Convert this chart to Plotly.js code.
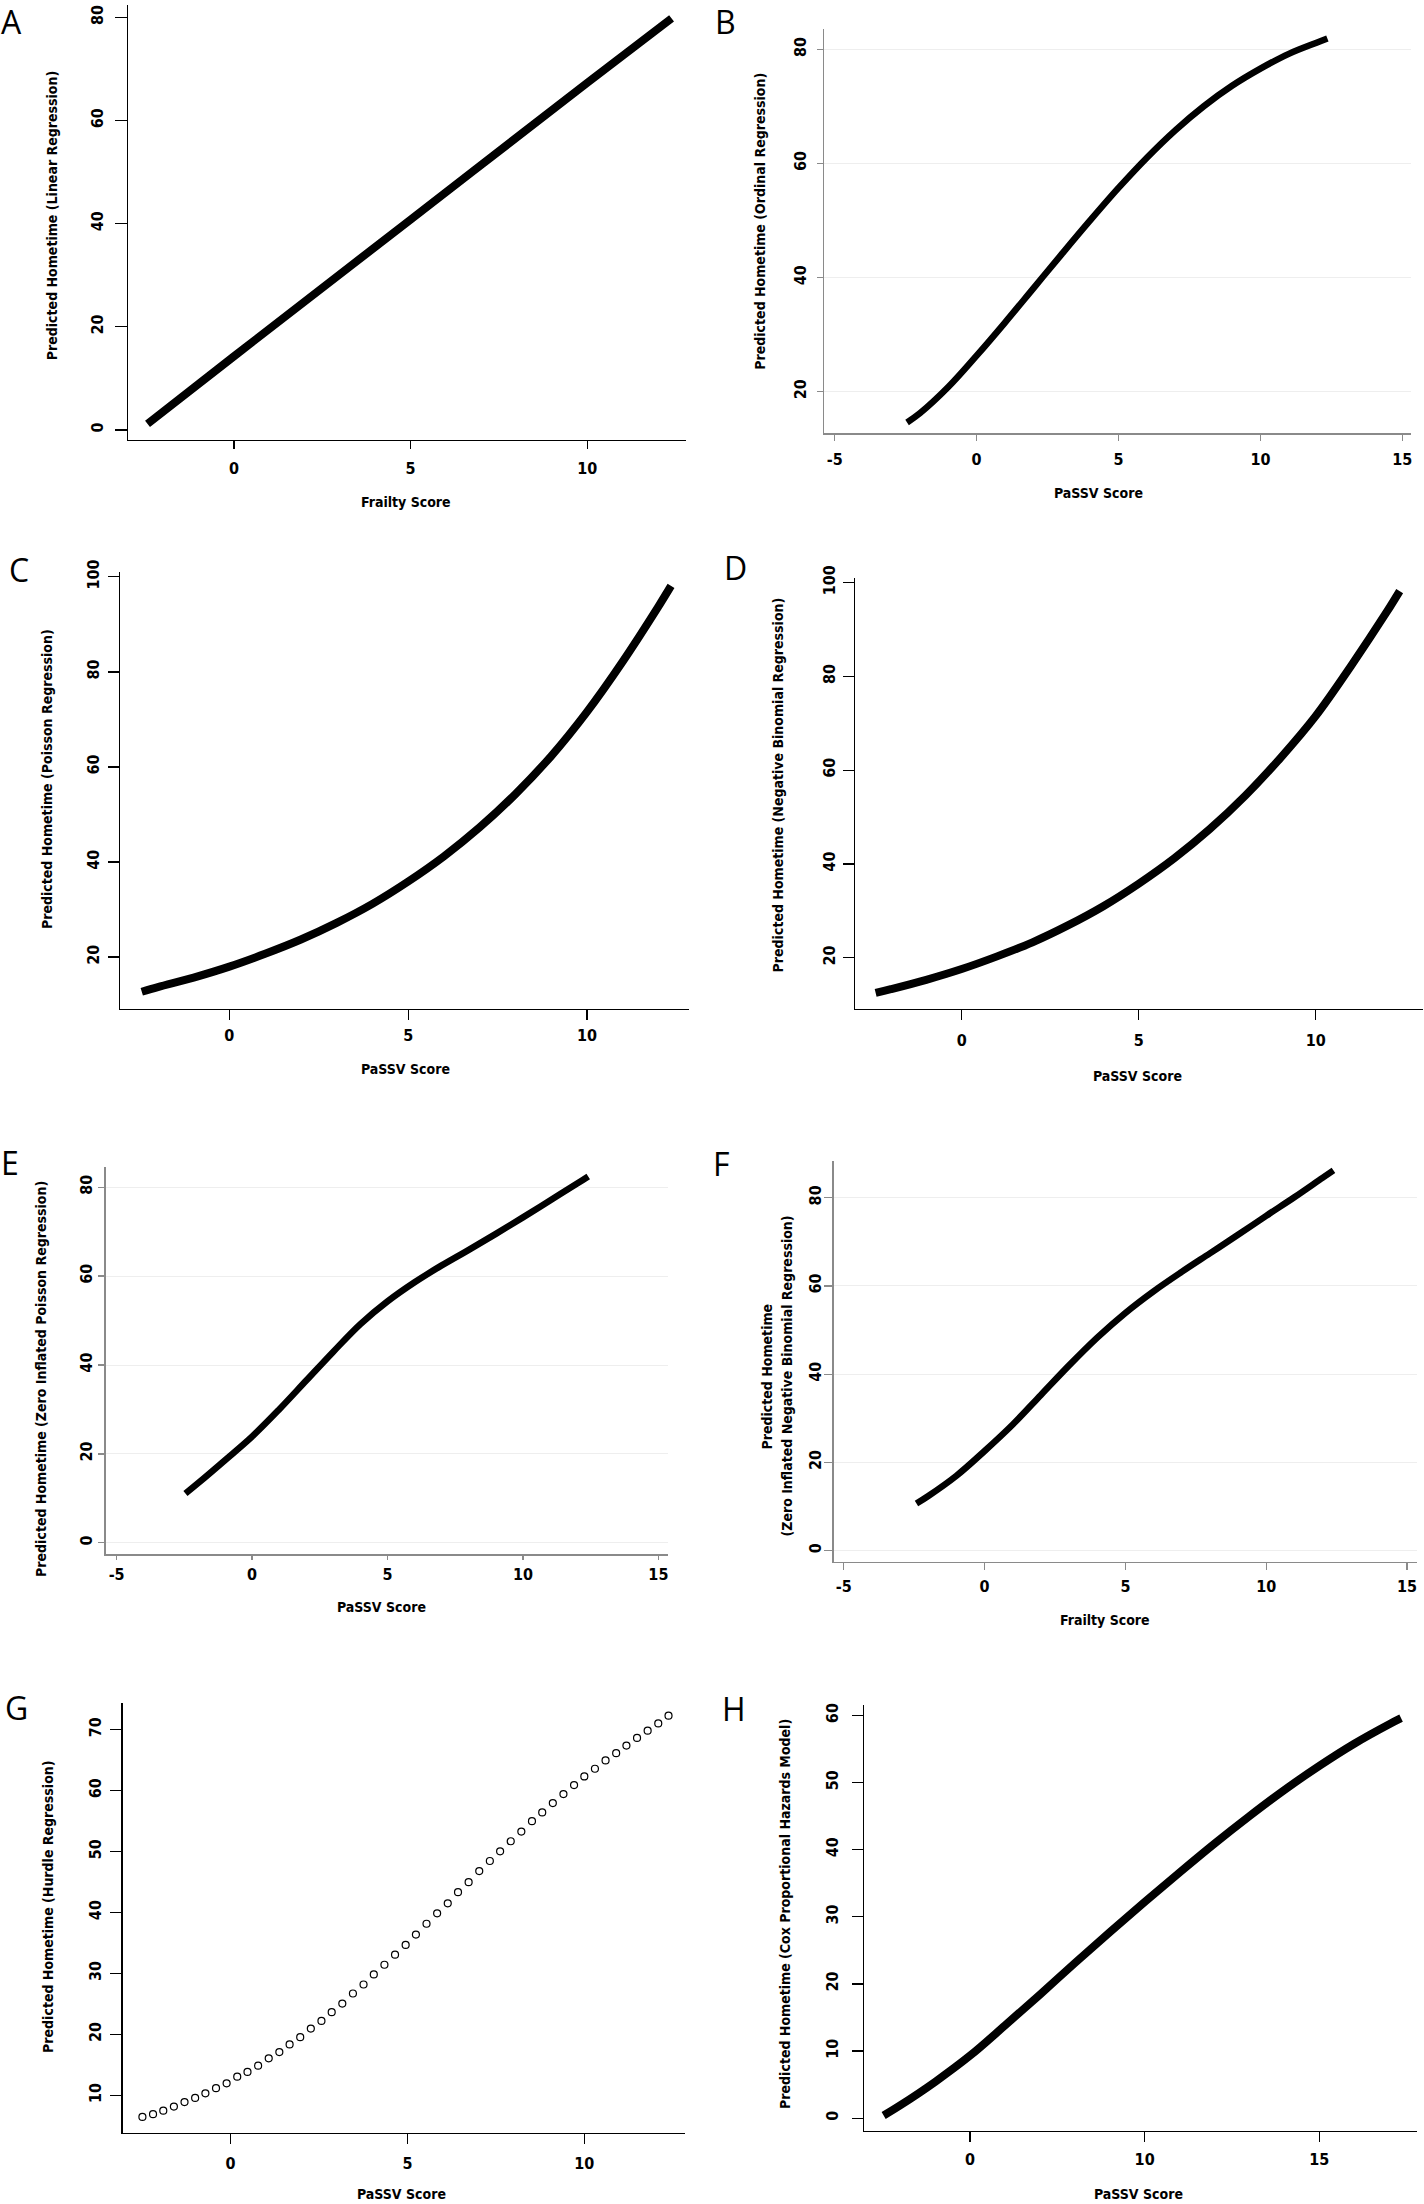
<!DOCTYPE html>
<html>
<head>
<meta charset="utf-8">
<script src="https://cdn.plot.ly/plotly-3.0.1.min.js"></script>
<style>html,body{margin:0;padding:0;background:#fff;}#chart{width:1424px;height:2204px;}</style>
</head>
<body>
<div id="chart"></div>
<script>
// ---------- Data ----------
// A: Linear regression, Frailty Score
const xA = [-2.45, 0, 5, 10, 12.39];
const yA = [1.2, 14.3, 40.8, 67.3, 79.8];

// B: Ordinal regression, PaSSV Score
const xB = [-2.45, -2, -1, 0, 1, 2, 3, 4, 5, 6, 7, 8, 9, 10, 11, 12, 12.36];
const yB = [14.6, 16.2, 20.8, 26.3, 32.1, 38.1, 44.1, 50.0, 55.7, 61.0, 65.8, 70.0, 73.6, 76.6, 79.2, 81.2, 81.9];

// C: Poisson regression, PaSSV Score
const xC = [-2.45, -2, -1, 0, 1, 2, 3, 4, 5, 6, 7, 8, 9, 10, 11, 12, 12.35];
const yC = [12.7, 13.7, 15.7, 18.0, 20.7, 23.7, 27.2, 31.2, 35.9, 41.2, 47.3, 54.3, 62.3, 71.6, 82.2, 93.8, 98.1];

// D: Negative binomial regression, PaSSV Score
const xD = [-2.43, -2, -1, 0, 1, 2, 3, 4, 5, 6, 7, 8, 9, 10, 11, 12, 12.37];
const yD = [12.5, 13.3, 15.3, 17.6, 20.3, 23.3, 26.9, 31.0, 35.8, 41.2, 47.4, 54.5, 62.6, 71.6, 82.3, 93.7, 98.2];

// E: Zero inflated Poisson regression, PaSSV Score
const xE = [-2.46, -2, -1, 0, 1, 2, 3, 4, 5, 6, 7, 8, 9, 10, 11, 12, 12.41];
const yE = [11.1, 13.4, 18.6, 23.9, 30.0, 36.5, 43.0, 49.2, 54.3, 58.6, 62.4, 65.9, 69.5, 73.2, 77.0, 80.8, 82.4];

// F: Zero inflated negative binomial regression, Frailty Score
const xF = [-2.42, -2, -1, 0, 1, 2, 3, 4, 5, 6, 7, 8, 9, 10, 11, 12, 12.39];
const yF = [10.7, 12.4, 17.0, 22.6, 28.6, 35.3, 42.0, 48.3, 53.9, 58.8, 63.2, 67.4, 71.6, 75.9, 80.1, 84.5, 86.2];

// G: Hurdle regression, PaSSV Score (open circles)
const xG = [-2.49, -2.19, -1.90, -1.60, -1.30, -1.00, -0.71, -0.41, -0.11, 0.19, 0.48, 0.78, 1.08, 1.38, 1.67, 1.97,
            2.27, 2.57, 2.86, 3.16, 3.46, 3.76, 4.05, 4.35, 4.65, 4.95, 5.24, 5.54, 5.84, 6.14, 6.43, 6.73,
            7.03, 7.33, 7.62, 7.92, 8.22, 8.52, 8.81, 9.11, 9.41, 9.71, 10.00, 10.30, 10.60, 10.90, 11.19, 11.49,
            11.79, 12.09, 12.38];
const yG = [6.47, 6.93, 7.49, 8.17, 8.91, 9.59, 10.34, 11.19, 11.98, 13.07, 13.86, 14.88, 16.08, 17.10, 18.36, 19.56,
            20.97, 22.22, 23.65, 25.07, 26.72, 28.19, 29.85, 31.43, 33.09, 34.68, 36.38, 38.16, 39.86, 41.50, 43.33, 44.98,
            46.79, 48.45, 50.03, 51.69, 53.28, 54.98, 56.42, 57.95, 59.42, 60.90, 62.32, 63.58, 64.95, 66.14, 67.39, 68.63,
            69.83, 71.02, 72.29];

// H: Cox proportional hazards model, PaSSV Score
const xH = [-2.47, -2, -1, 0, 1, 2, 3, 4, 5, 6, 7, 8, 9, 10, 11, 12, 12.34];
const yH = [0.4, 1.9, 5.4, 9.3, 13.8, 18.4, 23.1, 27.7, 32.2, 36.6, 40.9, 45.0, 48.9, 52.5, 55.8, 58.7, 59.6];

// Tick values / labels
const xTicksShort = [0, 5, 10];
const xTicksLong = [-5, 0, 5, 10, 15];
const xTickTextH = ["0", "10", "15"];
const yTicksA = [0, 20, 40, 60, 80];
const yTicksB = [20, 40, 60, 80];
const yTicksCD = [20, 40, 60, 80, 100];
const yTicksEF = [0, 20, 40, 60, 80];
const yTicksG = [10, 20, 30, 40, 50, 60, 70];
const yTicksH = [0, 10, 20, 30, 40, 50, 60];

// Titles
const panelLetters = ["A", "B", "C", "D", "E", "F", "G", "H"];
const yTitles = [
  ["Predicted Hometime (Linear Regression)"],
  ["Predicted Hometime (Ordinal Regression)"],
  ["Predicted Hometime (Poisson Regression)"],
  ["Predicted Hometime (Negative Binomial Regression)"],
  ["Predicted Hometime (Zero Inflated Poisson Regression)"],
  ["Predicted Hometime", "(Zero Inflated Negative Binomial Regression)"],
  ["Predicted Hometime (Hurdle Regression)"],
  ["Predicted Hometime (Cox Proportional Hazards Model)"]
];
const xTitles = ["Frailty Score", "PaSSV Score", "PaSSV Score", "PaSSV Score", "PaSSV Score", "Frailty Score", "PaSSV Score", "PaSSV Score"];

// ---------- Layout geometry (pixels in the 1424x2204 page) ----------
const W = 1424, H = 2204;
const FONT = "'Liberation Sans Narrow', 'Arial Narrow', 'DejaVu Sans Condensed', Roboto, sans-serif";
const LETTER_FONT = "'Open Sans', 'Liberation Sans', sans-serif";

const panels = [
  {x: [128.1, 685.7], y: [5, 440],       xr: [-3.0, 12.79],  yr: [-1.94, 82.4], xt: xTicksShort, yt: yTicksA,  gray: false, lw: 8,
   xtl: 8, xso: 5, ytl: 12, yso: 5,
   ytc: [[52.2, 216]], xtc: [405.5, 502], let: [11, 22]},
  {x: [824.2, 1411.4], y: [29.3, 433.3], xr: [-5.37, 15.32], yr: [12.7, 83.5],  xt: xTicksLong,  yt: yTicksB,  gray: true,  lw: 6.5,
   xtl: 6, xso: 5, ytl: 6, yso: 4,
   ytc: [[759.7, 221]], xtc: [1098, 492.7], let: [725.6, 22]},
  {x: [120.3, 688.9], y: [572.1, 1008.9], xr: [-3.05, 12.85], yr: [9.1, 101],   xt: xTicksShort, yt: yTicksCD, gray: false, lw: 8,
   xtl: 10, xso: 2, ytl: 11, yso: 3,
   ytc: [[47.7, 779.3]], xtc: [405.5, 1068.6], let: [19, 569]},
  {x: [855.1, 1422.7], y: [577.5, 1008.9], xr: [-3.01, 13.02], yr: [9.1, 101.1], xt: xTicksShort, yt: yTicksCD, gray: false, lw: 8,
   xtl: 10, xso: 7, ytl: 11, yso: 1,
   ytc: [[777.8, 784.6]], xtc: [1137.5, 1075.7], let: [735, 567]},
  {x: [105.8, 667.6], y: [1166.7, 1554], xr: [-5.4, 15.34],  yr: [-2.5, 84.6],  xt: xTicksLong,  yt: yTicksEF, gray: true,  lw: 6.5,
   xtl: 4, xso: 1, ytl: 6, yso: 0,
   ytc: [[40.9, 1379]], xtc: [381.5, 1606.7], let: [10, 1162]},
  {x: [833.7, 1416.8], y: [1160.7, 1561.7], xr: [-5.36, 15.35], yr: [-2.5, 88.4], xt: xTicksLong, yt: yTicksEF, gray: true, lw: 6.5,
   xtl: 7, xso: 2, ytl: 8, yso: -3,
   ytc: [[766.5, 1377], [786.5, 1376]], xtc: [1104.8, 1620], let: [721, 1163]},
  {x: [122.6, 684.8], y: [1703.4, 2132.6], xr: [-3.05, 12.84], yr: [3.9, 74.3],  xt: xTicksShort, yt: yTicksG,  gray: false, lw: 0,
   xtl: 10, xso: 6, ytl: 11, yso: 3,
   ytc: [[47.7, 1907.2]], xtc: [401.9, 2194], let: [16, 1707]},
  {x: [864.1, 1416.8], y: [1705.1, 2130.9], xr: [-3.03, 12.79], yr: [-1.9, 61.55], xt: xTicksShort, yt: yTicksH, gray: false, lw: 8,
   xtl: 10, xso: 4, ytl: 11, yso: 7,
   ytc: [[784.7, 1914.2]], xtc: [1138.9, 2194], let: [734, 1708]}
];

const xs = [xA, xB, xC, xD, xE, xF, xG, xH];
const ys = [yA, yB, yC, yD, yE, yF, yG, yH];

const data = [];
const layout = {
  width: W, height: H,
  margin: {l: 0, r: 0, t: 0, b: 0},
  paper_bgcolor: '#ffffff', plot_bgcolor: '#ffffff',
  showlegend: false,
  font: {family: FONT, color: '#000'},
  annotations: []
};

const titleFont = {family: FONT, size: 14, color: '#000', weight: 'bold'};
const tickFont = {family: FONT, size: 16, color: '#000', weight: 'bold'};

panels.forEach((p, i) => {
  const n = i + 1;
  const xa = n === 1 ? 'x' : 'x' + n;
  const ya = n === 1 ? 'y' : 'y' + n;
  const lineCol = p.gray ? '#8a8a8a' : '#000000';
  const tr = {x: xs[i], y: ys[i], xaxis: xa, yaxis: ya, hoverinfo: 'skip', type: 'scatter'};
  if (i === 6) {
    tr.mode = 'markers';
    tr.marker = {symbol: 'circle-open', size: 7, color: '#000', line: {width: 1.2, color: '#000'}};
  } else {
    tr.mode = 'lines';
    tr.line = {color: '#000', width: p.lw, shape: 'spline', smoothing: 1.0};
  }
  data.push(tr);

  const xKey = n === 1 ? 'xaxis' : 'xaxis' + n;
  const yKey = n === 1 ? 'yaxis' : 'yaxis' + n;
  layout[xKey] = {
    domain: [p.x[0] / W, p.x[1] / W],
    range: p.xr, anchor: ya,
    showline: true, linecolor: lineCol, linewidth: p.gray ? 1.6 : 1.3,
    ticks: 'outside', ticklen: p.xtl, tickwidth: 1.2, tickcolor: lineCol,
    tickmode: 'array', tickvals: p.xt,
    ticktext: i === 7 ? xTickTextH : p.xt.map(String),
    tickfont: tickFont,
    ticklabelstandoff: p.xso,
    showgrid: false, zeroline: false, fixedrange: true
  };
  layout[yKey] = {
    domain: [1 - p.y[1] / H, 1 - p.y[0] / H],
    range: p.yr, anchor: xa,
    showline: true, linecolor: lineCol, linewidth: p.gray ? 1.6 : 1.3,
    ticks: 'outside', ticklen: p.ytl, tickwidth: 1.2, tickcolor: lineCol,
    tickmode: 'array', tickvals: p.yt, ticktext: p.yt.map(String),
    tickangle: -90,
    tickfont: tickFont,
    ticklabelstandoff: p.yso,
    showgrid: p.gray, gridcolor: '#eeeeee', gridwidth: 1,
    zeroline: false, fixedrange: true
  };

  // y-axis title (one annotation per line)
  yTitles[i].forEach((t, k) => {
    layout.annotations.push({
      xref: 'paper', yref: 'paper',
      x: p.ytc[k][0] / W, y: 1 - p.ytc[k][1] / H,
      xanchor: 'center', yanchor: 'middle',
      text: t, textangle: -90, showarrow: false,
      font: titleFont
    });
  });
  // x-axis title
  layout.annotations.push({
    xref: 'paper', yref: 'paper',
    x: p.xtc[0] / W, y: 1 - p.xtc[1] / H,
    xanchor: 'center', yanchor: 'middle',
    text: xTitles[i], showarrow: false,
    font: titleFont
  });
  // panel letter
  layout.annotations.push({
    xref: 'paper', yref: 'paper',
    x: p.let[0] / W, y: 1 - p.let[1] / H,
    xanchor: 'center', yanchor: 'middle',
    text: panelLetters[i], showarrow: false,
    font: {family: LETTER_FONT, size: 32, color: '#000'}
  });
});

Plotly.newPlot('chart', data, layout, {displayModeBar: false, staticPlot: true});
</script>
</body>
</html>
